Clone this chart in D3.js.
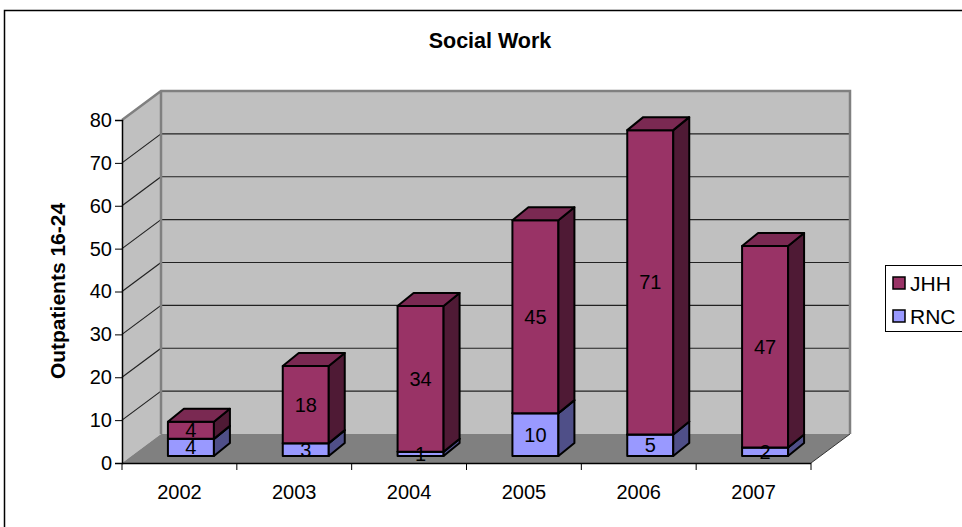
<!DOCTYPE html>
<html>
<head>
<meta charset="utf-8">
<script src="https://cdn.jsdelivr.net/npm/d3@7"></script>
<style>
  html, body { margin: 0; padding: 0; background: #fff; }
  svg { display: block; font-family: Arial, "Liberation Sans", sans-serif; }
</style>
</head>
<body>
<svg id="chart" width="962" height="527"></svg>
<script>
// Data
const years = ["2002", "2003", "2004", "2005", "2006", "2007"];
const rnc = [4, 3, 1, 10, 5, 2];
const jhh = [4, 18, 34, 45, 71, 47];
const yTicks = [0, 10, 20, 30, 40, 50, 60, 70, 80];
const seriesNames = ["JHH", "RNC"];

(function () {
const svg = d3.select("#chart");
const FONT = "Arial, 'Liberation Sans', sans-serif";

// Plot geometry (front plane + depth offset of the back wall)
const plotLeft = 122, plotRight = 811, plotBottom = 463, plotTop = 120;
const depthX = 39, depthY = -29;

const x = d3.scaleBand().domain(years).range([plotLeft, plotRight]).paddingInner(0).paddingOuter(0);
const y = d3.scaleLinear().domain([0, 80]).range([plotBottom, plotTop]);

const colors = {
  JHH: { front: "#993366", top: "#7a2952", side: "#4f1a35" },
  RNC: { front: "#9999ff", top: "#7a7acc", side: "#4f4f88" }
};

// Outer frame
svg.append("rect")
  .attr("x", 4.5).attr("y", 10.5).attr("width", 980).attr("height", 540)
  .attr("fill", "#fff").attr("stroke", "#000").attr("stroke-width", 1.5);

// Title
svg.append("text")
  .attr("x", 490).attr("y", 48)
  .attr("text-anchor", "middle")
  .attr("font-size", 21.5).attr("font-weight", "bold")
  .text("Social Work");

// Walls and floor
const pt = (px, py) => px + "," + py;
const y0 = y(0), yMax = y(80);

// left side wall
svg.append("polygon")
  .attr("points", [pt(plotLeft, y0), pt(plotLeft, yMax), pt(plotLeft + depthX, yMax + depthY), pt(plotLeft + depthX, y0 + depthY)].join(" "))
  .attr("fill", "#c0c0c0");
// back wall
svg.append("polygon")
  .attr("points", [pt(plotLeft + depthX, yMax + depthY), pt(plotRight + depthX, yMax + depthY), pt(plotRight + depthX, y0 + depthY), pt(plotLeft + depthX, y0 + depthY)].join(" "))
  .attr("fill", "#c0c0c0");
// floor
svg.append("polygon")
  .attr("points", [pt(plotLeft, y0), pt(plotRight, y0), pt(plotRight + depthX, y0 + depthY), pt(plotLeft + depthX, y0 + depthY)].join(" "))
  .attr("fill", "#808080");
svg.append("line")
  .attr("x1", plotRight).attr("y1", y0).attr("x2", plotRight + depthX).attr("y2", y0 + depthY)
  .attr("stroke", "#333").attr("stroke-width", 1);

// Gridlines
const gridVals = yTicks.filter(v => v > 0 && v < 80);
const grid = svg.append("g").attr("stroke", "#222").attr("stroke-width", 1.2).attr("fill", "none");
gridVals.forEach(v => {
  grid.append("line")
    .attr("x1", plotLeft).attr("y1", y(v)).attr("x2", plotLeft + depthX).attr("y2", y(v) + depthY);
  grid.append("line")
    .attr("x1", plotLeft + depthX).attr("y1", y(v) + depthY).attr("x2", plotRight + depthX).attr("y2", y(v) + depthY);
});

// Wall edges
svg.append("path")
  .attr("d", `M${plotLeft},${yMax} L${plotLeft + depthX},${yMax + depthY} L${plotRight + depthX},${yMax + depthY} L${plotRight + depthX},${y0 + depthY}`
    + ` M${plotLeft + depthX},${yMax + depthY} L${plotLeft + depthX},${y0 + depthY}`)
  .attr("fill", "none").attr("stroke", "#808080").attr("stroke-width", 2.5);

// Axes
const yAxis = d3.axisLeft(y).tickValues(yTicks).tickSize(7).tickPadding(3).tickFormat(d3.format("d"));
const gy = svg.append("g").attr("transform", `translate(${plotLeft},0)`).call(yAxis);
gy.select(".domain").attr("stroke-width", 1.5);
gy.selectAll("text").attr("font-size", 20).attr("fill", "#000").attr("font-family", FONT);

const xAxis = d3.axisBottom(x).tickSize(0).tickPadding(22);
const gx = svg.append("g").attr("transform", `translate(0,${plotBottom})`).call(xAxis);
gx.select(".domain").attr("d", `M${plotLeft},0.5H${plotRight}`).attr("stroke-width", 1.5);
gx.selectAll("text").attr("font-size", 20).attr("fill", "#000").attr("font-family", FONT);
// category boundary ticks
gx.selectAll(".bound").data(years.map((d, i) => i).concat([years.length]))
  .enter().append("line")
  .attr("x1", i => plotLeft + i * x.bandwidth()).attr("x2", i => plotLeft + i * x.bandwidth())
  .attr("y1", 0).attr("y2", 7).attr("stroke", "#000").attr("stroke-width", 1);

// Y axis title
svg.append("text")
  .attr("transform", "translate(65,291) rotate(-90)")
  .attr("text-anchor", "middle")
  .attr("font-size", 21).attr("font-weight", "bold")
  .text("Outpatients 16-24");

// 3D stacked bars
const barW = 46, barOffX = 11.5, barOffY = -7, barDX = 16, barDY = -13;
const bars = svg.append("g").attr("stroke", "#000").attr("stroke-width", 2).attr("stroke-linejoin", "round");
const labels = [];

years.forEach((yr, i) => {
  const cx = x(yr) + x.bandwidth() / 2 + barOffX;
  const x0 = cx - barW / 2, x1 = cx + barW / 2;
  const segs = [
    { name: "RNC", lo: 0, hi: rnc[i], v: rnc[i] },
    { name: "JHH", lo: rnc[i], hi: rnc[i] + jhh[i], v: jhh[i] }
  ];
  segs.forEach(s => {
    const yb = y(s.lo) + barOffY, yt = y(s.hi) + barOffY;
    const c = colors[s.name];
    bars.append("polygon")
      .attr("points", [pt(x0, yb), pt(x1, yb), pt(x1, yt), pt(x0, yt)].join(" "))
      .attr("fill", c.front);
    bars.append("polygon")
      .attr("points", [pt(x1, yb), pt(x1 + barDX, yb + barDY), pt(x1 + barDX, yt + barDY), pt(x1, yt)].join(" "))
      .attr("fill", c.side);
    bars.append("polygon")
      .attr("points", [pt(x0, yt), pt(x1, yt), pt(x1 + barDX, yt + barDY), pt(x0 + barDX, yt + barDY)].join(" "))
      .attr("fill", c.top);
    labels.push({ x: cx, y: (yb + yt) / 2, text: s.v });
  });
});

svg.append("g").selectAll("text").data(labels).enter().append("text")
  .attr("x", d => d.x).attr("y", d => d.y)
  .attr("text-anchor", "middle").attr("dominant-baseline", "central")
  .attr("font-size", 20).attr("fill", "#000")
  .text(d => d.text);

// Legend
const legend = svg.append("g");
legend.append("rect")
  .attr("x", 885.5).attr("y", 265.5).attr("width", 100).attr("height", 66)
  .attr("fill", "#fff").attr("stroke", "#000").attr("stroke-width", 1);
seriesNames.forEach((name, i) => {
  const ly = 277 + i * 33;
  legend.append("rect")
    .attr("x", 893).attr("y", ly).attr("width", 12).attr("height", 12)
    .attr("fill", colors[name].front).attr("stroke", "#000").attr("stroke-width", 1.5);
  legend.append("text")
    .attr("x", 910).attr("y", ly + 6)
    .attr("dominant-baseline", "central")
    .attr("font-size", 21)
    .text(name);
});
})();
</script>
</body>
</html>
